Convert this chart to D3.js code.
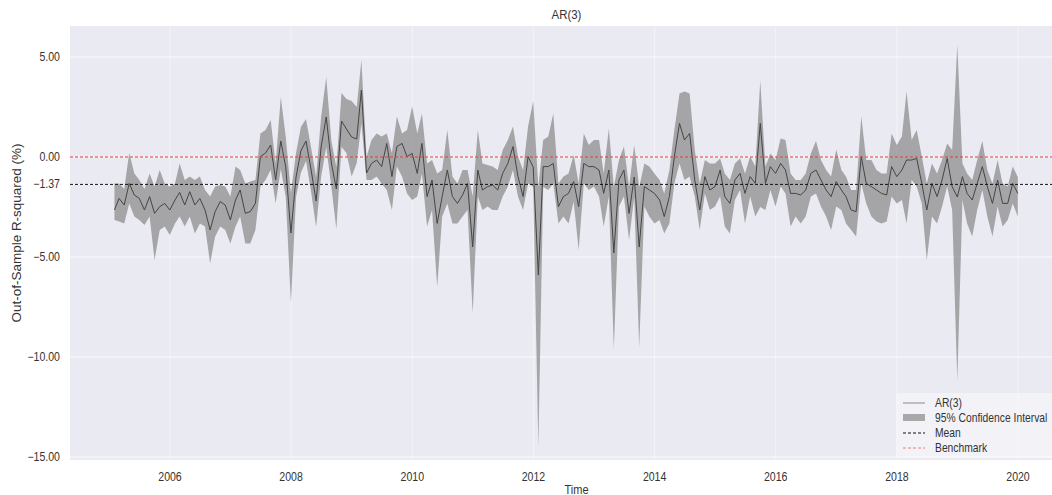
<!DOCTYPE html>
<html>
<head>
<meta charset="utf-8">
<script src="https://cdn.jsdelivr.net/npm/d3@7"></script>
<style>
  html, body { margin: 0; padding: 0; background: #fff; overflow: hidden; }
  svg { display: block; font-family: "Liberation Sans", Arial, sans-serif; }
</style>
</head>
<body>
<svg id="chart" width="1052" height="495"></svg>
<script>
var d3 = window.d3;

// AR(3) out-of-sample R-squared (%), month ends Jan 2005 .. Dec 2019
var firstMonth = [2005, 0];
var r2 = [
  -2.65, -2.07, -2.4, -1.32, -1.9, -2.07, -2.65, -1.98, -2.82, -2.48, -2.32, -2.65,
  -2.15, -1.77, -2.4, -1.73, -2.4, -2.07, -2.65, -3.65, -2.73, -2.23, -2.4, -3.15,
  -2.15, -1.65, -2.82, -2.73, -2.32, 0.02, 0.2, 0.6, -1.15, 0.8, -0.5, -3.8,
  -1.0, 0.3, 0.8, -0.6, -2.2, 0.5, 2.0, -0.3, -1.6, 1.8, 1.4, 1.0,
  0.9, 3.35, -0.8, -0.32, -0.15, -0.48, 0.68, -0.98, 0.52, 0.68, 0.02, 0.18,
  -0.82, 0.68, -1.98, -1.15, -3.32, -1.98, -0.65, -1.98, -2.32, -1.9, -1.32, -4.5,
  -0.65, -1.65, -1.48, -1.4, -1.65, -0.82, -0.32, 0.52, -0.98, -1.98, 0.02, -0.5,
  -5.9, -0.48, -0.48, -0.32, -2.48, -1.98, -1.82, -1.23, -2.48, -0.32, -0.48, -0.48,
  -0.65, -1.82, -0.65, -4.8, -1.15, -0.65, -2.82, -1.0, -4.5, -1.48, -1.65, -1.82,
  -2.15, -2.98, -1.98, 0.02, 1.68, 0.85, 1.18, -1.15, -2.65, -0.98, -1.65, -1.48,
  -0.65, -1.98, -2.32, -1.15, -0.82, -1.82, -0.98, -1.32, 1.68, -1.32, -0.48, -0.82,
  -0.32, -0.65, -1.82, -1.82, -1.9, -1.65, -0.82, -0.65, -1.15, -1.65, -1.98, -1.23,
  -1.65, -1.98, -2.65, -2.73, 0.02, -1.32, -1.48, -1.65, -1.82, -1.9, -0.48, -0.98,
  -0.65, -0.15, -0.15, -0.07, -1.32, -2.65, -1.32, -1.98, -1.15, -0.07, -1.48, -2.0,
  -0.98, -1.82, -2.15, -1.32, -0.48, -1.48, -2.32, -1.15, -2.32, -2.32, -1.32, -1.82
];
var ciUpper = [
  -1.32, -1.32, -1.6, 0.2, -0.82, -1.15, -1.6, -0.82, -1.48, -0.65, -1.32, -1.48,
  -1.32, -0.32, -1.15, -0.98, -1.15, -0.98, -1.65, -1.98, -1.48, -1.4, -1.48, -1.98,
  -0.48, -0.65, -1.32, -1.23, -1.15, 1.18, 1.35, 1.85, -0.32, 3.0, 1.0, -1.8,
  0.2, 1.5, 1.9, 0.5, -1.0, 2.0, 4.0, 0.8, -0.5, 3.2, 2.9, 2.8,
  2.5, 4.85, 0.0, 0.85, 1.18, 1.02, 1.18, 0.2, 2.02, 1.18, 1.35, 2.52,
  1.18, 2.18, -0.32, -0.15, -0.82, -0.65, 1.35, -0.98, -1.32, -0.65, -0.65, -1.98,
  1.35, -0.32, -0.4, -0.48, -0.65, 0.35, 0.85, 1.52, 0.02, -0.65, 1.52, 2.8,
  -1.5, 0.85, 1.02, 2.18, -1.32, -0.98, -0.82, 0.1, -1.32, 1.18, 0.6, 0.85,
  0.85, -0.82, 1.43, -1.5, -0.15, 0.52, -1.48, 0.6, -1.5, -0.32, -0.48, -0.82,
  -1.15, -1.82, -0.65, 1.35, 3.18, 3.27, 3.18, 0.35, -1.32, -0.15, -0.32, -0.32,
  -0.07, -0.82, -1.15, -0.32, -0.07, -0.82, 0.02, -0.48, 3.82, -0.48, 0.18, -0.15,
  0.93, 0.85, -0.82, -1.15, -1.15, -0.82, 0.18, 0.8, -0.15, -0.65, -0.98, 0.37,
  -0.65, -0.98, -1.65, -1.65, 2.02, -0.15, -0.15, -0.65, -0.82, -0.82, 1.18, 0.6,
  1.02, 3.27, 0.85, 1.35, 0.02, -1.32, -0.32, -0.82, -0.15, 0.67, 0.35, 5.6,
  -0.32, -0.82, -1.15, -0.15, 0.8, -0.65, -1.32, -0.15, -1.32, -1.48, -0.48, -1.0
];
var ciLower = [
  -3.15, -3.23, -3.32, -2.32, -2.98, -3.15, -3.4, -2.98, -5.15, -3.65, -3.48, -3.9,
  -3.32, -2.98, -3.48, -2.98, -3.82, -3.32, -3.48, -5.32, -3.98, -3.48, -3.65, -4.32,
  -3.48, -2.98, -4.32, -4.32, -3.65, -1.48, -1.15, -0.65, -2.32, -0.6, -2.0, -7.3,
  -2.0, -0.8, -0.2, -1.7, -3.5, -1.0, 0.5, -1.5, -3.6, 0.5, 0.2, -0.98,
  -0.3, 1.68, -1.15, -1.15, -0.98, -1.32, -1.65, -2.65, -0.48, -0.98, -1.82, -2.15,
  -1.98, -0.82, -3.48, -2.65, -6.5, -2.98, -2.32, -3.32, -3.32, -2.98, -2.65, -7.8,
  -1.98, -2.65, -2.48, -2.65, -2.65, -1.98, -1.48, -0.65, -1.98, -2.65, -1.32, -1.5,
  -14.5, -1.5, -1.65, -1.32, -3.32, -2.98, -3.32, -2.23, -4.65, -1.32, -1.65, -1.48,
  -1.98, -3.48, -1.98, -9.6, -2.48, -1.98, -4.15, -2.0, -9.5, -2.48, -2.98, -3.32,
  -3.15, -3.82, -3.32, -1.32, -0.32, -1.15, -0.98, -1.98, -3.65, -1.82, -2.65, -2.48,
  -1.98, -3.48, -3.82, -2.15, -1.65, -3.32, -1.98, -2.98, -2.5, -2.65, -1.65, -2.48,
  -1.48, -1.82, -3.48, -2.98, -3.32, -2.98, -1.98, -1.82, -2.48, -2.98, -3.65, -2.48,
  -2.65, -3.32, -3.65, -3.98, -1.32, -2.32, -2.98, -3.23, -3.32, -3.23, -1.98, -2.32,
  -2.15, -3.32, -1.15, -1.48, -2.32, -5.15, -2.98, -3.32, -2.48, -1.48, -2.65, -11.2,
  -2.15, -3.32, -3.98, -2.65, -1.65, -2.98, -3.98, -2.48, -3.48, -3.15, -2.32, -2.98
];
var meanR2 = -1.37;
var benchmark = 0;
var yTicks = [5, 0, -1.37, -5, -10, -15];
var xTickYears = [2006, 2008, 2010, 2012, 2014, 2016, 2018, 2020];
var legendLabels = ['AR(3)', '95% Confidence Interval', 'Mean', 'Benchmark'];

var margin = { left: 70, top: 26, right: 1063, bottom: 460 };
var textColor = '#333';

var series = r2.map(function(v, i) {
  return {
    date: new Date(firstMonth[0], firstMonth[1] + i + 1, 0),
    value: v,
    lo: ciLower[i],
    hi: ciUpper[i]
  };
});

// pin two year ticks to their pixel spots, then stretch to the full axes box
var xScale = d3.scaleTime()
  .domain([new Date(2006, 0, 1), new Date(2020, 0, 1)])
  .range([170, 1018]);
xScale.domain([xScale.invert(margin.left), xScale.invert(margin.right)])
  .range([margin.left, margin.right]);

var yScale = d3.scaleLinear()
  .domain([-15.15, 6.55])
  .range([margin.bottom, margin.top]);

var svg = d3.select('#chart');

// the source picture is squeezed sideways, so text gets a narrower x scale
function label(parent, x, y, size, anchor, txt, rotate, squeeze) {
  var k = squeeze || 0.88;
  var t = 'translate(' + x + ',' + y + ')' +
    (rotate ? ' rotate(-90) scale(1,' + k + ')' : ' scale(' + k + ',1)');
  return parent.append('text')
    .attr('transform', t)
    .attr('text-anchor', anchor)
    .attr('font-size', size)
    .attr('fill', textColor)
    .text(txt);
}

svg.append('rect')
  .attr('x', margin.left)
  .attr('y', margin.top)
  .attr('width', margin.right - margin.left)
  .attr('height', margin.bottom - margin.top)
  .attr('fill', '#eaeaf2');

var grid = svg.append('g').attr('class', 'grid');
grid.selectAll('line.gy')
  .data(yTicks)
  .enter().append('line')
  .attr('class', 'gy')
  .attr('x1', margin.left)
  .attr('x2', margin.right)
  .attr('y1', function(d) { return yScale(d); })
  .attr('y2', function(d) { return yScale(d); })
  .attr('stroke', '#fff')
  .attr('stroke-opacity', 0.8)
  .attr('stroke-width', 1);
grid.selectAll('line.gx')
  .data(xTickYears)
  .enter().append('line')
  .attr('class', 'gx')
  .attr('x1', function(d) { return xScale(new Date(d, 0, 1)); })
  .attr('x2', function(d) { return xScale(new Date(d, 0, 1)); })
  .attr('y1', margin.top)
  .attr('y2', margin.bottom)
  .attr('stroke', '#fff')
  .attr('stroke-opacity', 0.45)
  .attr('stroke-width', 1);

var band = d3.area()
  .x(function(d) { return xScale(d.date); })
  .y0(function(d) { return yScale(d.lo); })
  .y1(function(d) { return yScale(d.hi); });

svg.append('path')
  .datum(series)
  .attr('d', band)
  .attr('fill', '#808080')
  .attr('fill-opacity', 0.65);

var line = d3.line()
  .x(function(d) { return xScale(d.date); })
  .y(function(d) { return yScale(d.value); });

svg.append('path')
  .datum(series)
  .attr('d', line)
  .attr('fill', 'none')
  .attr('stroke', '#454545')
  .attr('stroke-width', 1);

svg.append('line')
  .attr('x1', margin.left)
  .attr('x2', margin.right)
  .attr('y1', yScale(meanR2))
  .attr('y2', yScale(meanR2))
  .attr('stroke', '#111')
  .attr('stroke-width', 1)
  .attr('stroke-dasharray', '3,2');

svg.append('line')
  .attr('x1', margin.left)
  .attr('x2', margin.right)
  .attr('y1', yScale(benchmark))
  .attr('y2', yScale(benchmark))
  .attr('stroke', '#e8352e')
  .attr('stroke-width', 1)
  .attr('stroke-dasharray', '3,2');

// tick labels
var fmt = d3.format('.2f');
var yLabels = svg.append('g');
yTicks.forEach(function(d) {
  label(yLabels, 60, yScale(d) + 4, 12, 'end', fmt(d));
});

var xLabels = svg.append('g');
xTickYears.forEach(function(d) {
  label(xLabels, xScale(new Date(d, 0, 1)), 481, 12, 'middle', d);
});

label(svg, (margin.left + margin.right) / 2, 19, 13, 'middle', 'AR(3)');
label(svg, (margin.left + margin.right) / 2 + 10, 494, 12.5, 'middle', 'Time');
label(svg, 21, 233, 13.5, 'middle', 'Out-of-Sample R-squared (%)', true);

// legend, lower right (it runs up to the right edge, as in the source)
var legend = svg.append('g').attr('transform', 'translate(896,393)');
legend.append('rect')
  .attr('width', 170)
  .attr('height', 65)
  .attr('rx', 3)
  .attr('fill', '#fff')
  .attr('fill-opacity', 0.4);

var rows = legend.selectAll('g.row')
  .data(legendLabels)
  .enter().append('g')
  .attr('class', 'row')
  .attr('transform', function(d, i) { return 'translate(0,' + (10 + i * 15) + ')'; });

rows.each(function(d, i) {
  var g = d3.select(this);
  if (i === 1) {
    g.append('rect')
      .attr('x', 7).attr('y', -4)
      .attr('width', 22).attr('height', 7)
      .attr('fill', '#808080')
      .attr('fill-opacity', 0.65);
  } else {
    g.append('line')
      .attr('x1', 7).attr('x2', 29)
      .attr('stroke', ['#8a8a8a', null, '#111', '#e8352e'][i])
      .attr('stroke-opacity', i === 3 ? 0.6 : 1)
      .attr('stroke-width', 1)
      .attr('stroke-dasharray', i === 0 ? null : '3,2');
  }
  label(g, 39, 4, 12, 'start', d, false, 0.86);
});
</script>
</body>
</html>
